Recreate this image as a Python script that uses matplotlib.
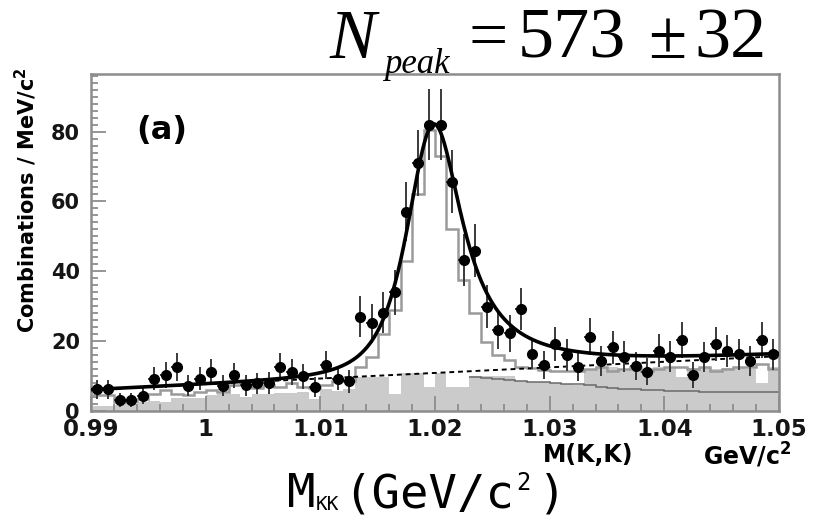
import numpy as np
import matplotlib
matplotlib.use("Agg")
import matplotlib.pyplot as plt
from matplotlib.ticker import MultipleLocator, FixedLocator

# K+K- invariant mass, 1 MeV bins from 0.99 to 1.05 GeV/c^2
bin_lo = 0.99
bin_w = 0.001
n_bins = 60

counts = [6.2, 6.2, 3.1, 3.1, 4.4, 9.3, 10.3, 12.6, 7.2, 9.3,
          11.2, 7.3, 10.2, 7.4, 7.9, 8.1, 12.5, 11.2, 9.9, 6.9,
          13.2, 9.3, 8.5, 27.0, 25.1, 28.2, 34.0, 57.1, 71.0, 82.0,
          82.0, 65.7, 43.3, 45.9, 29.9, 23.2, 22.3, 29.1, 16.4, 13.2,
          19.2, 16.0, 12.7, 21.3, 14.3, 18.2, 15.6, 12.8, 11.3, 17.3,
          15.6, 20.4, 10.3, 15.5, 19.2, 17.1, 16.2, 14.4, 20.4, 16.2]
errors = [2.8, 2.8, 2.0, 2.0, 2.3, 3.4, 3.6, 4.0, 3.0, 3.4,
          3.7, 3.0, 3.6, 3.0, 3.1, 3.2, 4.0, 3.7, 3.5, 2.9,
          4.1, 3.4, 3.3, 5.8, 5.6, 5.9, 6.5, 8.5, 9.4, 10.1,
          10.1, 9.1, 7.4, 7.6, 6.1, 5.4, 5.3, 6.0, 4.5, 4.1,
          4.9, 4.5, 4.0, 5.2, 4.2, 4.8, 4.4, 4.0, 3.8, 4.7,
          4.4, 5.1, 3.6, 4.4, 4.9, 4.6, 4.5, 4.3, 5.1, 4.5]

# simulated signal + background (open histogram)
mc_open = [4.5, 4.5, 2.5, 3.0, 3.5, 5.0, 6.0, 5.0, 4.5, 5.5,
           6.0, 5.5, 7.4, 7.4, 6.5, 7.4, 7.0, 8.0, 7.0, 6.5,
           7.5, 8.5, 8.5, 12.5, 15.6, 22.0, 29.0, 43.0, 62.0, 80.5,
           73.0, 52.0, 37.5, 28.0, 19.8, 16.0, 14.6, 12.7, 12.2, 11.7,
           11.5, 11.5, 11.5, 12.0, 12.5, 11.5, 12.0, 12.5, 11.5, 12.0,
           12.5, 12.7, 12.0, 12.5, 11.5, 12.0, 12.5, 12.5, 13.6, 12.0]
# background estimate (shaded histogram)
bkg_fill = [1.5, 1.5, 1.8, 2.0, 2.5, 3.0, 2.7, 3.6, 3.6, 3.8,
            4.5, 4.8, 5.0, 4.1, 5.0, 5.0, 5.2, 5.2, 5.5, 3.5,
            6.2, 5.8, 6.2, 9.8, 9.8, 9.8, 5.0, 10.8, 10.8, 7.0,
            10.8, 7.0, 7.0, 10.0, 10.0, 10.0, 10.0, 8.6, 8.4, 8.2,
            8.0, 7.8, 7.5, 12.0, 12.3, 12.5, 12.0, 12.2, 12.0, 12.5,
            12.4, 9.8, 12.3, 12.5, 12.0, 12.4, 12.6, 12.0, 7.9, 12.5]
# non-resonant component above 1.023 GeV (thin dark line)
line_first_bin = 33
bkg_line = [9.8, 9.5, 9.2, 9.0, 8.7, 8.4, 8.2, 8.0, 7.8, 7.6,
            7.4, 7.0, 6.6, 6.4, 6.2, 6.0, 5.9, 5.8, 5.7, 5.6,
            5.5, 5.5, 5.5, 5.4, 5.5, 5.4, 5.5]

# fit: peak on a linear background; steeper tail below the peak
peak_mass = 1.0199
peak_amp = 71.3
width_left = 0.0042   # squared-Lorentzian scale below the peak
gamma_right = 0.0062  # Breit-Wigner FWHM above the peak
bkg_at_lo = 6.1
bkg_slope = 160.0  # per GeV

title_value = "573"
title_error = "32"
x_ticks = [0.99, 1.0, 1.01, 1.02, 1.03, 1.04, 1.05]
x_tick_labels = ["0.99", "1", "1.01", "1.02", "1.03", "1.04", "1.05"]
y_ticks = [0, 20, 40, 60, 80]

edges = bin_lo + bin_w * np.arange(n_bins + 1)
centers = 0.5 * (edges[:-1] + edges[1:])

FRAME = "#8c8c8c"
BOLD = "DejaVu Sans"

fig = plt.figure(figsize=(8.13, 5.22), dpi=100)
ax = fig.add_axes([91 / 813, 1 - 411 / 522, 688 / 813, 337 / 522])

ax.stairs(bkg_fill, edges, fill=True, color="#cbcbcb", lw=0, zorder=1)
ax.stairs(bkg_line, edges[line_first_bin:], baseline=None,
          color="#6a6a6a", lw=1.1, zorder=2)
ax.stairs(mc_open, edges, baseline=None, color="#9a9a9a", lw=1.8,
          zorder=3)

xf = np.linspace(bin_lo, bin_lo + n_bins * bin_w, 1200)
bkg_fit = bkg_at_lo + bkg_slope * (xf - bin_lo)
d = xf - peak_mass
sig_left = peak_amp / (1 + (d / width_left) ** 2) ** 2
hw = gamma_right / 2
sig_right = peak_amp * hw**2 / (d**2 + hw**2)
sig_fit = np.where(d < 0, sig_left, sig_right)
ax.plot(xf, bkg_fit, color="black", lw=1.4, ls=(0, (2.5, 2.0)), zorder=4)
ax.plot(xf, bkg_fit + sig_fit, color="black", lw=2.6, zorder=6)

ax.errorbar(centers, counts, yerr=errors, xerr=bin_w / 2, fmt="o",
            ms=7, mfc="black", mec="black", ecolor="#3a3a3a",
            elinewidth=1.4, capsize=0, zorder=5)

ax.set_xlim(bin_lo, bin_lo + n_bins * bin_w)
ax.set_ylim(0, 96.5)

for s in ax.spines.values():
    s.set_color(FRAME)
    s.set_linewidth(1.8)

ax.xaxis.set_major_locator(FixedLocator(x_ticks))
ax.set_xticklabels(x_tick_labels)
ax.xaxis.set_minor_locator(MultipleLocator(0.002))
ax.yaxis.set_major_locator(FixedLocator(y_ticks))
ax.yaxis.set_minor_locator(MultipleLocator(2))
ax.tick_params(which="both", direction="in", color=FRAME, width=1.3,
               top=False, right=False)
ax.tick_params(which="major", length=11)
ax.tick_params(which="minor", length=5)
ax.tick_params(axis="x", which="major", labelsize=16.5, pad=5)
ax.tick_params(axis="y", which="major", labelsize=15, pad=8)
for lab in ax.get_xticklabels() + ax.get_yticklabels():
    lab.set_fontfamily(BOLD)
    lab.set_fontweight("bold")
    lab.set_color("#151515")

fig.text(26 / 813, 1 - 200 / 522, "Combinations / MeV/c$^{\\mathbf{2}}$",
         rotation=90, ha="center", va="center", fontsize=15,
         fontweight="bold", family=BOLD)
fig.text(543 / 813, 1 - 455 / 522, "M(K,K)", ha="left", va="center",
         fontsize=17, fontweight="bold", family=BOLD)
fig.text(792 / 813, 1 - 455 / 522, "GeV/c$^{\\mathbf{2}}$", ha="right",
         va="center", fontsize=17, fontweight="bold", family=BOLD)
ax.text(0.103, 0.831, "(a)", transform=ax.transAxes, ha="center",
        va="center", fontsize=23, fontweight="bold", family=BOLD)

# headline: N_peak = 573 +- 32
serif = "Liberation Serif"
fig.text(330 / 813, 1 - 58 / 522, "N", fontsize=50, style="italic",
         family=serif, ha="left", va="baseline")
fig.text(384 / 813, 1 - 73 / 522, "peak", fontsize=25, style="italic",
         family=serif, ha="left", va="baseline")
fig.text(468 / 813, 1 - 58 / 522, "=", fontsize=50, family=serif,
         ha="left", va="baseline")
fig.text(518 / 813, 1 - 58 / 522, title_value, fontsize=52, family=serif,
         ha="left", va="baseline")
fig.text(648 / 813, 1 - 58 / 522, "\u00b1", fontsize=50, family=serif,
         ha="left", va="baseline")
fig.text(694 / 813, 1 - 58 / 522, title_error, fontsize=52, family=serif,
         ha="left", va="baseline")

# axis caption below the frame
mono = "DejaVu Sans Mono"
fig.text(287 / 813, 1 - 507 / 522, "M", fontsize=34, family=mono,
         ha="left", va="baseline")
fig.text(316 / 813, 1 - 510 / 522, "KK", fontsize=14, family=mono,
         ha="left", va="baseline")
fig.text(343 / 813, 1 - 507 / 522, "(GeV/c", fontsize=34, family=mono,
         ha="left", va="baseline")
fig.text(516 / 813, 1 - 490 / 522, "2", fontsize=17, family=mono,
         ha="left", va="baseline")
fig.text(538 / 813, 1 - 507 / 522, ")", fontsize=34, family=mono,
         ha="left", va="baseline")

fig.savefig("out.png", dpi=100)
